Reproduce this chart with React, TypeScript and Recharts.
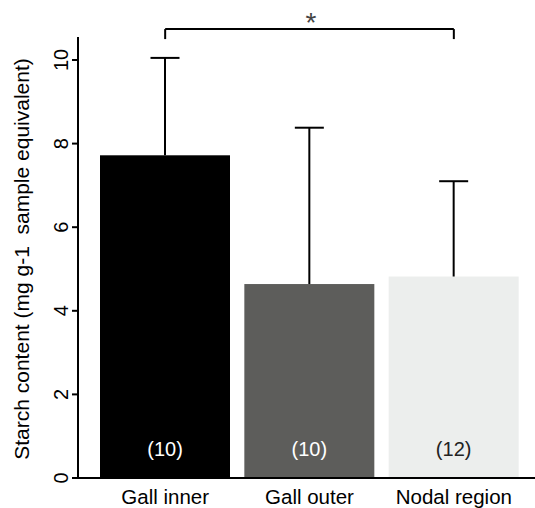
import React from "react";
import {
  BarChart, Bar, XAxis, YAxis, Cell, LabelList, ReferenceLine,
} from "recharts";

const categories = ["Gall inner", "Gall outer", "Nodal region"];
const means = [7.72, 4.64, 4.82];
const errors = [2.33, 3.74, 2.28];
const sampleSizes = [10, 10, 12];
const barColors = ["#000000", "#5d5d5b", "#eceeed"];
const countColors = ["#ffffff", "#ffffff", "#222222"];
const yTicks = [0, 2, 4, 6, 8, 10];
const bracketY = 10.74;
const bracketFootY = 10.5;

const data = categories.map((name, i) => ({
  name,
  mean: means[i],
  err: errors[i],
  n: sampleSizes[i],
}));

const FONT = "'Liberation Sans', Arial, sans-serif";

// bar plus a one-sided (upper) error whisker
const BarWithError = (props: any) => {
  const { x, y, width, height, index, payload } = props;
  const pxPerUnit = height / payload.mean;
  const top = y - payload.err * pxPerUnit;
  const cx = x + width / 2;
  return (
    <g>
      <rect x={x} y={y} width={width} height={height} fill={barColors[index]} />
      <line x1={cx} x2={cx} y1={y} y2={top} stroke="#000" strokeWidth={2} />
      <line x1={cx - 14.5} x2={cx + 14.5} y1={top} y2={top} stroke="#000" strokeWidth={2} />
    </g>
  );
};

const YTick = ({ x, y, payload }: any) => (
  <text
    x={x}
    y={y}
    transform={`rotate(-90 ${x} ${y})`}
    textAnchor="middle"
    fontSize={20}
    fontFamily={FONT}
    fill="#000"
  >
    {payload.value}
  </text>
);

const XTick = ({ x, y, payload }: any) => (
  <text x={x} y={y + 26} textAnchor="middle" fontSize={20.5} fontFamily={FONT} fill="#000">
    {payload.value}
  </text>
);

const CountLabel = ({ x, y, width, height, value, index }: any) => (
  <text
    x={x + width / 2}
    y={y + height - 22}
    textAnchor="middle"
    fontSize={20}
    fontFamily={FONT}
    fill={countColors[index]}
  >
    ({value})
  </text>
);

const YTitle = ({ viewBox }: any) => {
  const cx = 29;
  const cy = viewBox.y + viewBox.height / 2 + 1.5;
  return (
    <text
      x={cx}
      y={cy}
      transform={`rotate(-90 ${cx} ${cy})`}
      textAnchor="middle"
      fontSize={21}
      fontFamily={FONT}
      fill="#000"
      style={{ whiteSpace: "pre" }}
    >
      {"Starch content (mg g-1  sample equivalent)"}
    </text>
  );
};

export default function App() {
  return (
    <div style={{ width: 535, height: 508 }}>
      <style>{"body{margin:0}"}</style>
      <BarChart
        width={535}
        height={508}
        data={data}
        margin={{ top: 37, right: 0, left: 0, bottom: 0 }}
      >
        <XAxis
          dataKey="name"
          height={30}
          tickLine={false}
          tickSize={0}
          tickMargin={0}
          padding={{ left: 15, right: 9 }}
          axisLine={{ stroke: "#000", strokeWidth: 2 }}
          tick={<XTick />}
          interval={0}
        />
        <YAxis
          width={78}
          domain={[0, 10.55]}
          ticks={yTicks}
          tickSize={6}
          tickMargin={4}
          axisLine={{ stroke: "#000", strokeWidth: 2 }}
          tickLine={{ stroke: "#000", strokeWidth: 2 }}
          tick={<YTick />}
          label={{ content: <YTitle /> }}
        />
        <Bar dataKey="mean" barSize={130} shape={<BarWithError />} isAnimationActive={false}>
          {data.map((d, i) => (
            <Cell key={d.name} fill={barColors[i]} />
          ))}
          <LabelList dataKey="n" content={<CountLabel />} />
        </Bar>
        <ReferenceLine
          ifOverflow="visible"
          segment={[
            { x: categories[0], y: bracketY },
            { x: categories[2], y: bracketY },
          ]}
          stroke="#000"
          strokeWidth={2}
          label={{ value: "*", position: "top", offset: -3, dx: 1.5, fontSize: 28, fill: "#444", fontFamily: FONT }}
        />
        <ReferenceLine
          ifOverflow="visible"
          segment={[
            { x: categories[0], y: bracketFootY },
            { x: categories[0], y: bracketY },
          ]}
          stroke="#000"
          strokeWidth={2}
        />
        <ReferenceLine
          ifOverflow="visible"
          segment={[
            { x: categories[2], y: bracketFootY },
            { x: categories[2], y: bracketY },
          ]}
          stroke="#000"
          strokeWidth={2}
        />
      </BarChart>
    </div>
  );
}
